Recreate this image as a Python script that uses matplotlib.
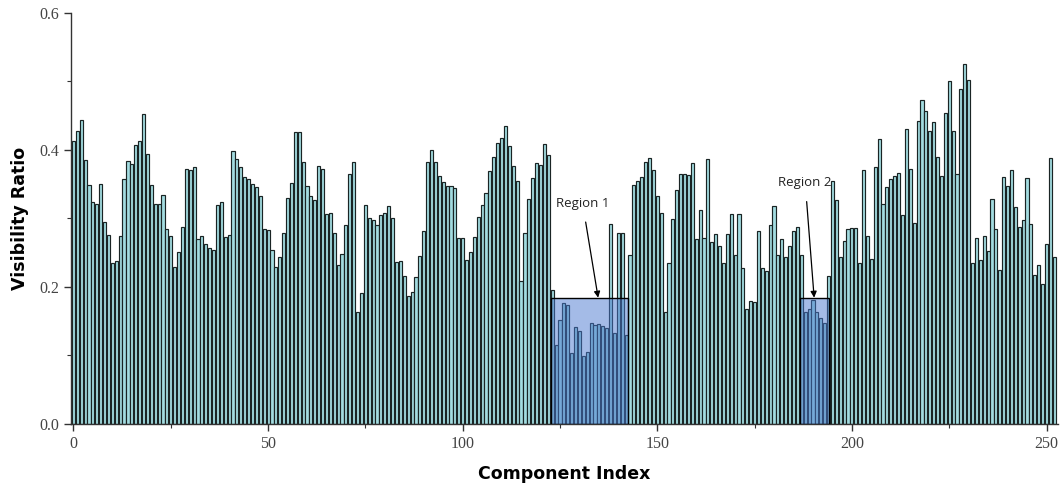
import matplotlib
matplotlib.use("Agg")
import matplotlib.pyplot as plt
from matplotlib.patches import Rectangle
from matplotlib.ticker import MultipleLocator

values = [
    0.413, 0.428, 0.444, 0.385, 0.348, 0.324, 0.321, 0.350, 0.294, 0.276,
    0.235, 0.237, 0.274, 0.358, 0.383, 0.379, 0.407, 0.413, 0.452, 0.394,
    0.348, 0.321, 0.321, 0.334, 0.285, 0.274, 0.229, 0.251, 0.287, 0.372,
    0.370, 0.375, 0.269, 0.274, 0.263, 0.257, 0.253, 0.320, 0.323, 0.272,
    0.275, 0.398, 0.387, 0.375, 0.360, 0.358, 0.350, 0.345, 0.333, 0.284,
    0.283, 0.253, 0.229, 0.244, 0.278, 0.330, 0.352, 0.426, 0.426, 0.382,
    0.347, 0.333, 0.326, 0.376, 0.372, 0.306, 0.307, 0.278, 0.232, 0.248,
    0.290, 0.364, 0.382, 0.163, 0.191, 0.319, 0.300, 0.297, 0.290, 0.304,
    0.307, 0.318, 0.301, 0.236, 0.237, 0.216, 0.186, 0.193, 0.214, 0.245,
    0.281, 0.382, 0.399, 0.382, 0.362, 0.353, 0.347, 0.347, 0.344, 0.271,
    0.271, 0.239, 0.250, 0.272, 0.302, 0.320, 0.337, 0.369, 0.390, 0.410,
    0.417, 0.434, 0.406, 0.376, 0.354, 0.208, 0.279, 0.328, 0.359, 0.381,
    0.378, 0.408, 0.392, 0.195, 0.115, 0.152, 0.176, 0.173, 0.103, 0.141,
    0.136, 0.099, 0.105, 0.147, 0.144, 0.145, 0.143, 0.139, 0.291, 0.132,
    0.279, 0.278, 0.129, 0.246, 0.349, 0.354, 0.360, 0.382, 0.388, 0.370,
    0.332, 0.308, 0.163, 0.234, 0.299, 0.341, 0.365, 0.365, 0.363, 0.381,
    0.269, 0.312, 0.271, 0.386, 0.265, 0.277, 0.260, 0.234, 0.277, 0.306,
    0.246, 0.306, 0.227, 0.167, 0.179, 0.177, 0.282, 0.227, 0.223, 0.290,
    0.318, 0.247, 0.269, 0.243, 0.259, 0.281, 0.287, 0.247, 0.163, 0.168,
    0.181, 0.163, 0.155, 0.147, 0.216, 0.355, 0.326, 0.243, 0.267, 0.284,
    0.286, 0.286, 0.234, 0.370, 0.274, 0.240, 0.375, 0.415, 0.321, 0.345,
    0.358, 0.362, 0.366, 0.304, 0.431, 0.372, 0.293, 0.442, 0.472, 0.457,
    0.427, 0.441, 0.390, 0.362, 0.453, 0.501, 0.427, 0.364, 0.489, 0.525,
    0.502, 0.234, 0.271, 0.239, 0.274, 0.252, 0.328, 0.285, 0.224, 0.360,
    0.347, 0.371, 0.316, 0.287, 0.297, 0.359, 0.292, 0.217, 0.231, 0.204,
    0.262, 0.388, 0.243,
]
indices = list(range(len(values)))

region_labels = ["Region 1", "Region 2"]
region_start = [122.6, 186.7]
region_end = [142.6, 194.0]
region_height = [0.184, 0.184]

fig = plt.figure(figsize=(10.62, 4.86), dpi=100)
ax = fig.add_axes([0.0666, 0.1282, 0.9298, 0.8455])

ax.bar(indices, values, width=0.8, color="#a3dce0", edgecolor="#1a2424",
       linewidth=0.85, zorder=2)

for s, e, h in zip(region_start, region_end, region_height):
    ax.add_patch(Rectangle((s, 0), e - s, h, facecolor="#4a78d0", alpha=0.5,
                           edgecolor="none", zorder=3))
    ax.add_patch(Rectangle((s, 0), e - s, h, facecolor="none",
                           edgecolor="black", linewidth=1.0, zorder=4))

ann_text_xy = [(130.8, 0.322), (188.0, 0.352)]
ann_tip_xy = [(134.8, 0.184), (190.3, 0.184)]
for lab, txy, pxy in zip(region_labels, ann_text_xy, ann_tip_xy):
    ax.annotate(lab, xy=pxy, xytext=txy, ha="center", va="center",
                fontsize=9.5, family="Open Sans", color="#222222",
                arrowprops=dict(arrowstyle="-|>", color="black", lw=0.9,
                                mutation_scale=9, shrinkA=7, shrinkB=0),
                zorder=5)

ax.set_xlim(-0.7, 253.0)
ax.set_ylim(0, 0.6)
ax.xaxis.set_major_locator(MultipleLocator(50))
ax.xaxis.set_minor_locator(MultipleLocator(25))
ax.yaxis.set_major_locator(MultipleLocator(0.2))
ax.yaxis.set_minor_locator(MultipleLocator(0.1))
ax.yaxis.set_major_formatter(matplotlib.ticker.FormatStrFormatter("%.1f"))

for sp in ["top", "right"]:
    ax.spines[sp].set_visible(False)
for sp in ["left", "bottom"]:
    ax.spines[sp].set_color("#333333")
    ax.spines[sp].set_linewidth(1.0)

ax.tick_params(axis="both", which="major", direction="out", length=5,
               width=1.0, color="#333333", labelcolor="#444444", labelsize=11.5)
ax.tick_params(axis="both", which="minor", direction="out", length=3,
               width=0.8, color="#333333")
for lbl in ax.get_xticklabels() + ax.get_yticklabels():
    lbl.set_family("Liberation Serif")

ax.set_xlabel("Component Index", fontsize=12.5, fontweight="bold",
              family="DejaVu Sans", labelpad=10)
ax.set_ylabel("Visibility Ratio", fontsize=12.5, fontweight="bold",
              family="DejaVu Sans", labelpad=7)

fig.savefig("out.png", dpi=100)
